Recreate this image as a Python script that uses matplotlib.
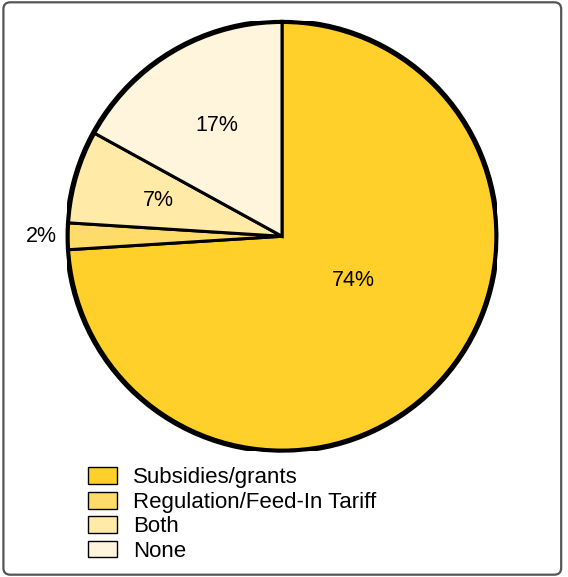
import numpy as np
import matplotlib
matplotlib.use("Agg")
import matplotlib.pyplot as plt
from matplotlib.patches import Patch, Circle, FancyBboxPatch

# data (clockwise from 12 o'clock)
categories = ["Subsidies/grants", "Regulation/Feed-In Tariff", "Both", "None"]
shares = [74, 2, 7, 17]
colors = ["#FFD02A", "#FFDC6A", "#FFEAA8", "#FFF5DC"]

plt.rcParams['font.family'] = ['Liberation Sans', 'DejaVu Sans']

fig = plt.figure(figsize=(5.68, 5.77), dpi=100)

# rounded frame round the whole figure
frame = FancyBboxPatch((0.006, 0.004), 0.982, 0.992,
                       boxstyle="round,pad=0,rounding_size=0.012",
                       transform=fig.transFigure, fill=False,
                       edgecolor="#555555", linewidth=1.6)
fig.patches.append(frame)

ax = fig.add_axes([0.118, 0.218, 0.757, 0.745])
wedges, _ = ax.pie(shares, colors=colors, startangle=90, counterclock=False,
                   radius=1.0,
                   wedgeprops=dict(edgecolor="black", linewidth=2.2))
ax.add_patch(Circle((0, 0), 1.0, fill=False, edgecolor="black", linewidth=3.8, zorder=5))
ax.set_aspect("equal")
ax.set_xlim(-1.0, 1.0)
ax.set_ylim(-1.0, 1.0)
ax.axis("off")

# percentage labels
label_r = [0.39, 1.12, 0.6, 0.6]
for i, w in enumerate(wedges):
    mid = np.deg2rad((w.theta1 + w.theta2) / 2)
    if i == 0:
        mid = np.deg2rad(-32)
    x, y = label_r[i] * np.cos(mid), label_r[i] * np.sin(mid)
    ax.text(x, y, f"{shares[i]}%", ha="center", va="center", fontsize=15.5)

handles = [Patch(facecolor=c, edgecolor="black", linewidth=1.0) for c in colors]
fig.legend(handles, categories, loc="upper left",
           bbox_to_anchor=(0.155, 0.19), bbox_transform=fig.transFigure,
           frameon=False, fontsize=16, handlelength=1.3, handleheight=0.78,
           handletextpad=0.72, labelspacing=0.15, borderpad=0, borderaxespad=0)

fig.savefig("out.png", dpi=100)
